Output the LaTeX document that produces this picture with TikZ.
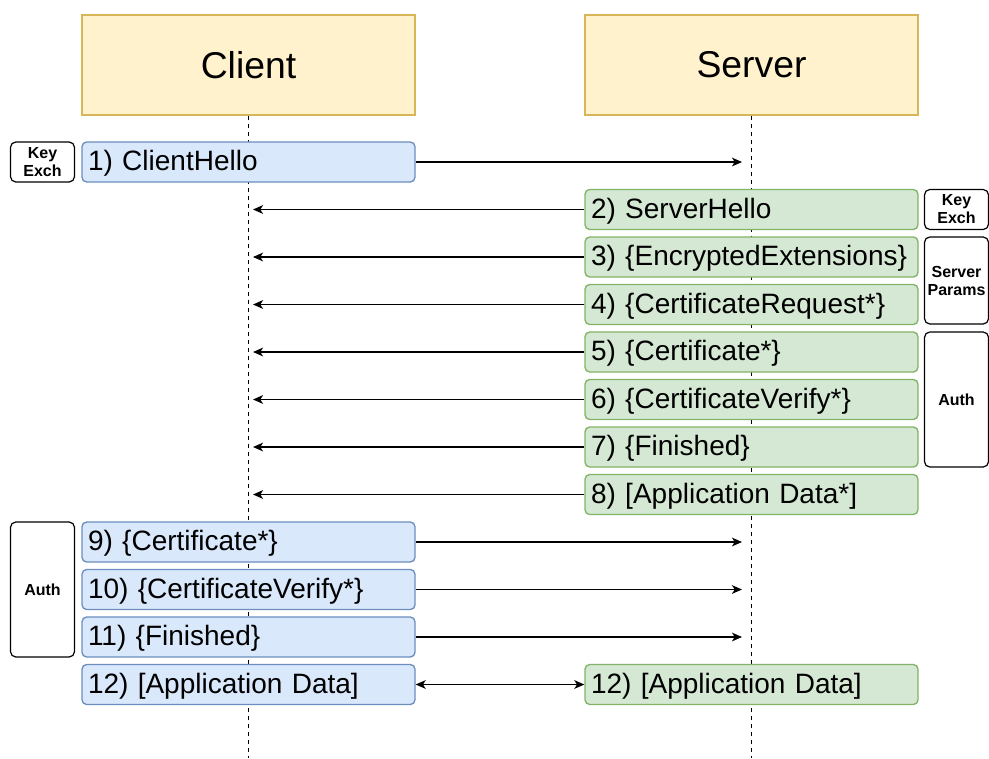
\documentclass[tikz,border=0pt]{standalone}
\usepackage{fontspec}
\setmainfont{Liberation Sans}
\usetikzlibrary{arrows.meta}
\definecolor{hdfill}{HTML}{FFF2CC}
\definecolor{hddraw}{HTML}{D6B656}
\definecolor{clfill}{HTML}{DAE8FC}
\definecolor{cldraw}{HTML}{6C8EBF}
\definecolor{svfill}{HTML}{D5E8D4}
\definecolor{svdraw}{HTML}{82B366}
\tikzset{
  head/.style={draw=hddraw,fill=hdfill,line width=0.8pt,minimum width=249.75pt,minimum height=75pt,font=\fontsize{28}{32}\selectfont},
  msg/.style={rounded corners=3.5pt,line width=1pt,minimum height=30pt,text width=240.75pt,inner xsep=4.5pt,align=left,text depth=2pt,font=\fontsize{21}{24}\selectfont},
  climsg/.style={msg,draw=cldraw,fill=clfill},
  srvmsg/.style={msg,draw=svdraw,fill=svfill},
  tag/.style={draw,rounded corners=4pt,line width=0.9pt,minimum width=48pt,inner sep=2pt,align=center,font=\fontsize{12}{13.5}\selectfont\bfseries},
  life/.style={dash pattern=on 3pt off 3pt,line width=0.8pt},
  msgarrow/.style={-{Stealth[length=7.5pt,width=6.5pt,inset=2pt]},line width=1pt}
}
\begin{document}
\begin{tikzpicture}[x=0.75pt,y=-0.75pt]
\useasboundingbox (0,0) rectangle (989,758);
\node[head] (client) at (248.5,65) {Client};
\node[head] (server) at (751.5,65) {Server};
\draw[life] (client.south) -- (client.south |- 0,758);
\draw[life] (server.south) -- (server.south |- 0,758);
\coordinate (cl) at (253,0);
\coordinate (sl) at (742,0);

\foreach \i/\t in {1/{1) ClientHello},9/{9) \{Certificate*\}},10/{10) \{CertificateVerify*\}},11/{11) \{Finished\}}}{
  \node[climsg] (m\i) at (248.5,{162+47.5*(\i-1)}) {\t};
  \draw[msgarrow] (m\i.east) -- (m\i.east -| sl);
}
\foreach \i/\t in {2/{2) ServerHello},3/{3) \{EncryptedExtensions\}},4/{4) \{CertificateRequest*\}},5/{5) \{Certificate*\}},6/{6) \{CertificateVerify*\}},7/{7) \{Finished\}},8/{8) [Application Data*]}}{
  \node[srvmsg] (m\i) at (751.5,{162+47.5*(\i-1)}) {\t};
  \draw[msgarrow] (m\i.west) -- (m\i.west -| cl);
}
\node[climsg] (c12) at (248.5,684.5) {12) [Application Data]};
\node[srvmsg] (s12) at (751.5,684.5) {12) [Application Data]};
\draw[msgarrow,{Stealth[length=7.5pt,width=6.5pt,inset=2pt]}-{Stealth[length=7.5pt,width=6.5pt,inset=2pt]}] (c12) -- (s12);

\node[tag,minimum height=30pt] (kxc) at (42.5,162) {Key\\Exch};
\node[tag,minimum height=30pt] (kxs) at (956.5,209.5) {Key\\Exch};
\node[tag,minimum height=65.25pt] (params) at (956.5,280.5) {Server\\Params};
\node[tag,minimum height=101.25pt] (auths) at (956.5,399.5) {Auth};
\node[tag,minimum height=101.25pt] (authc) at (42.5,589.5) {Auth};
\end{tikzpicture}
\end{document}
